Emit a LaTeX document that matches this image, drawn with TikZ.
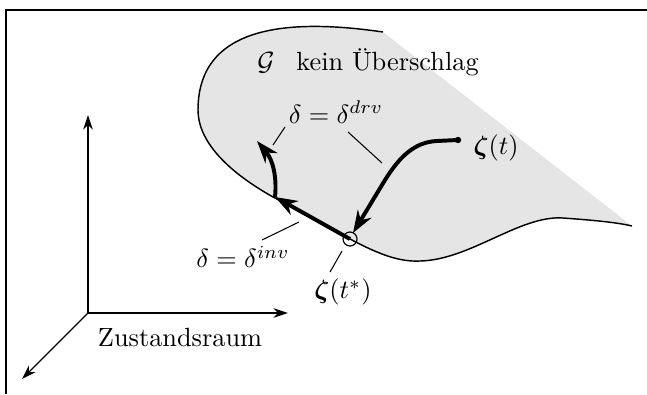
\documentclass[tikz,border=0pt]{standalone}
\usepackage{amsmath}
\usepackage{bm}
\usepackage{tikz}
\usetikzlibrary{arrows.meta}

\tikzset{
    axis/.style={line width=0.45pt, -{Stealth[length=5.5pt, width=3.6pt]}},
    traj/.style={line width=1.5pt, -{Stealth[length=8.5pt, width=6pt]}},
    leader/.style={line width=0.4pt},
    rim/.style={line width=0.55pt},
}

\begin{document}
\begin{tikzpicture}[x=0.38pt, y=-0.38pt]
        \useasboundingbox (0,0) rectangle (647,394);
        \draw[line width=1pt] (6,394) -- (6,10) -- (647,10);

        % region G
        \coordinate (r0) at (383,32);
        \coordinate (r1) at (198,110);
        \coordinate (r2) at (273,197);
        \coordinate (r3) at (420,261);
        \coordinate (r4) at (563,218);
        \coordinate (r5) at (632,226);
        \coordinate (hit) at (350,239);

        \fill[gray!20] (r0) .. controls (300,20) and (198,20) .. (r1)
            .. controls (198,140) and (225,170) .. (r2)
            .. controls (300,211) and (330,228) .. (hit)
            .. controls (380,255) and (400,262) .. (r3)
            .. controls (470,260) and (520,215) .. (r4)
            .. controls (590,220) and (615,222) .. (r5) -- cycle;
        \draw[rim] (r0) .. controls (300,20) and (198,20) .. (r1)
            .. controls (198,140) and (225,170) .. (r2)
            .. controls (300,211) and (330,228) .. (hit)
            .. controls (380,255) and (400,262) .. (r3)
            .. controls (470,260) and (520,215) .. (r4)
            .. controls (590,220) and (615,222) .. (r5);

        % axes
        \coordinate (o) at (88,313);
        \coordinate (ax) at (288,313);
        \coordinate (ay) at (88,115);
        \coordinate (az) at (22,379);
        \draw[axis] (o) -- (ax);
        \draw[axis] (o) -- (ay);
        \draw[axis] (o) -- (az);
        \node (space) at (180,338) {Zustandsraum};

        % trajectory
        \coordinate (start) at (458,140);
        \coordinate (tipdrv) at (353,233);
        \coordinate (bend) at (275,197);
        \coordinate (tipend) at (257,141);
        \fill (start) circle (3.2);
        \draw[traj] (start) -- (437,141) .. controls (415,142) and (400,156) .. (385,180) -- (tipdrv);
        \draw[traj] (hit) -- (bend);
        \draw[traj] (bend) .. controls (277,177) and (273,160) .. (tipend);
        \draw[line width=0.45pt] (hit) circle (7);

        % labels
        \node (g) at (368,62) {$\mathcal{G}$\enspace\ kein Überschlag};
        \node (zt) at (496,148) {$\bm{\zeta}(t)$};
        \node (zs) at (343,292) {$\bm{\zeta}(t^*)$};
        \node (drv) at (336,112) {$\delta=\delta^{drv}$};
        \node (inv) at (243,257) {$\delta=\delta^{inv}$};

        \coordinate (d1) at (285,127);
        \coordinate (d1e) at (273,145);
        \coordinate (d2) at (348,132);
        \coordinate (d2e) at (382,163);
        \coordinate (i1) at (262,240);
        \coordinate (i1e) at (299,222);
        \coordinate (s1) at (330,272);
        \coordinate (s1e) at (342,251);
        \draw[leader] (d1) -- (d1e);
        \draw[leader] (d2) -- (d2e);
        \draw[leader] (i1) -- (i1e);
        \draw[leader] (s1) -- (s1e);
\end{tikzpicture}
\end{document}
